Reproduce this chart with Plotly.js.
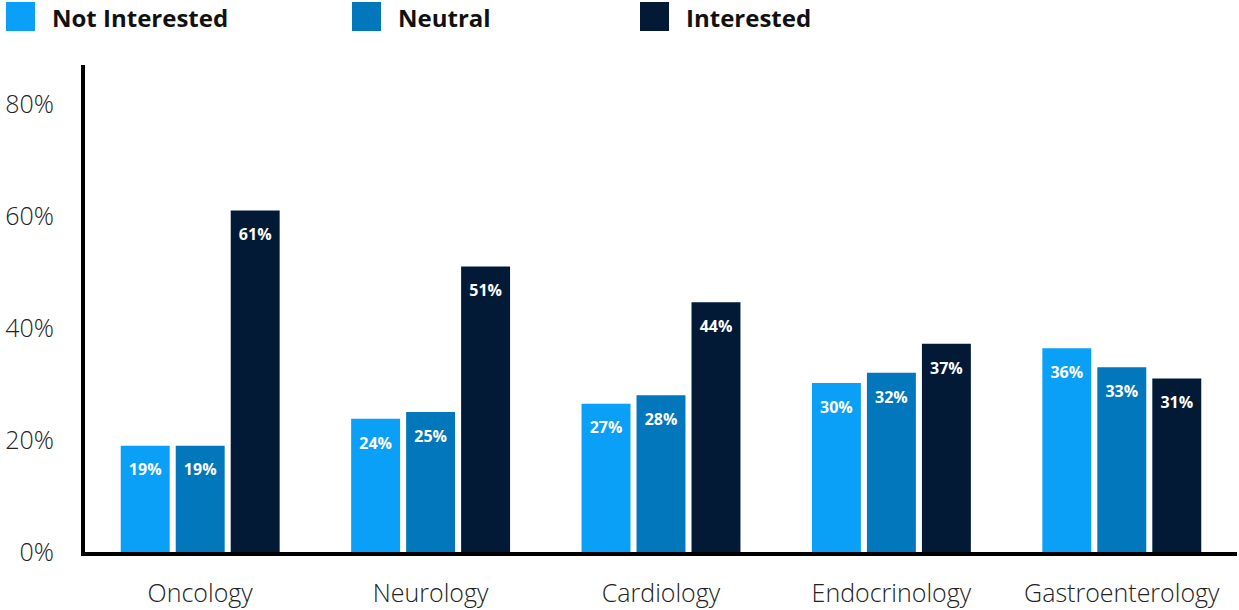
<!DOCTYPE html>
<html><head><meta charset="utf-8">
<script src="https://cdn.plot.ly/plotly-3.0.1.min.js"></script>
<style>body{margin:0;background:#fff}#chart{width:1239px;height:610px}</style>
</head><body><div id="chart"></div>
<script>
const categories = ["Oncology", "Neurology", "Cardiology", "Endocrinology", "Gastroenterology"];
const seriesNames = ["Not Interested", "Neutral", "Interested"];
const notInterested = [19, 23.8, 26.5, 30.2, 36.4];
const neutral = [19, 25, 28, 32, 33];
const interested = [61, 51, 44.6, 37.2, 31];
const notInterestedLabels = ["19%", "24%", "27%", "30%", "36%"];
const neutralLabels = ["19%", "25%", "28%", "32%", "33%"];
const interestedLabels = ["61%", "51%", "44%", "37%", "31%"];
const yTicks = [0, 20, 40, 60, 80];
const yTickText = ["0%", "20%", "40%", "60%", "80%"];
const colors = ["#0aa0f7", "#0277bb", "#021a36"];

const FONT = "'Open Sans', sans-serif";
const values = [notInterested, neutral, interested];
const labels = [notInterestedLabels, neutralLabels, interestedLabels];

const traces = values.map((v, i) => ({
  type: "bar",
  name: seriesNames[i],
  x: categories,
  y: v,
  text: labels[i].map(t => "<span style='font-size:6px'> </span><br>" + t),
  textposition: "inside",
  insidetextanchor: "end",
  textangle: 0,
  textfont: {family: FONT, size: 16, color: "#ffffff", weight: 700},
  marker: {color: colors[i]},
  hoverinfo: "skip",
  showlegend: false
}));

// custom legend: large squares + bold labels
const legendX = [6, 352, 640];
const shapes = [];
const annotations = [];
seriesNames.forEach((n, i) => {
  shapes.push({type: "rect", xref: "paper", yref: "paper",
    x0: (legendX[i] - 85) / 1152, x1: (legendX[i] + 29 - 85) / 1152,
    y0: (552 - 31) / 487, y1: (552 - 2) / 487,
    fillcolor: colors[i], line: {width: 0}});
  annotations.push({xref: "paper", yref: "paper",
    x: (legendX[i] + 44 - 85) / 1152, y: (552 - 17) / 487,
    xanchor: "left", yanchor: "middle", showarrow: false,
    text: n, font: {family: FONT, size: 24, color: "#111111", weight: 700}});
});

const layout = {
  width: 1239, height: 610,
  margin: {l: 85, r: 2, t: 65, b: 58},
  paper_bgcolor: "#ffffff", plot_bgcolor: "#ffffff",
  barmode: "group",
  bargap: 0.284,
  bargroupgap: 0.11,
  font: {family: FONT, color: "#222222"},
  xaxis: {
    type: "category",
    showline: true, linecolor: "#000000", linewidth: 4,
    ticks: "outside", ticklen: 16, tickcolor: "rgba(0,0,0,0)",
    tickfont: {family: FONT, size: 25, color: "#222222", weight: 300},
    showgrid: false, zeroline: false, fixedrange: true
  },
  yaxis: {
    range: [0, 87],
    tickvals: yTicks, ticktext: yTickText,
    showline: true, linecolor: "#000000", linewidth: 4,
    ticks: "outside", ticklen: 22, tickcolor: "rgba(0,0,0,0)",
    tickfont: {family: FONT, size: 25, color: "#222222", weight: 300},
    showgrid: false, zeroline: false, fixedrange: true
  },
  shapes: shapes,
  annotations: annotations
};

Plotly.newPlot("chart", traces, layout, {displayModeBar: false, staticPlot: true});
</script>
</body></html>
